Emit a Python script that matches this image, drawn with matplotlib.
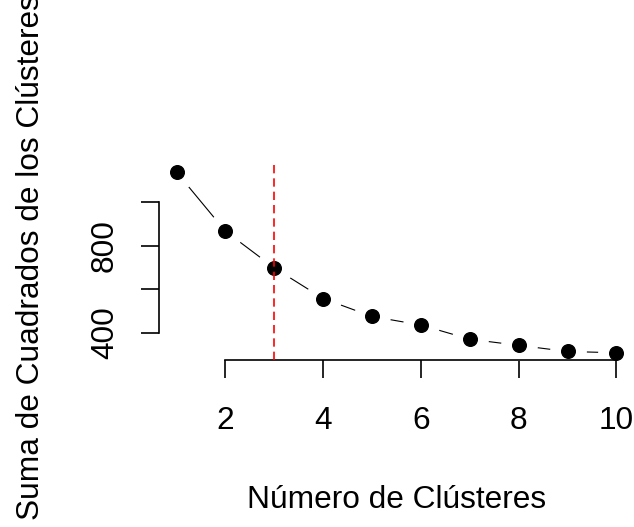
import matplotlib
matplotlib.use("Agg")
import matplotlib.pyplot as plt
import numpy as np

plt.rcParams['font.family'] = ['Liberation Sans', 'DejaVu Sans']

clusters = [1, 2, 3, 4, 5, 6, 7, 8, 9, 10]
wss = [1136, 866, 698, 558, 476, 437, 372, 344, 316, 310]
x_ticks = [2, 4, 6, 8, 10]
y_ticks = [400, 600, 800, 1000]
y_tick_labels = ["400", "", "800", ""]
k_opt = 3

W, H = 634, 527
fig = plt.figure(figsize=(W / 100, H / 100), dpi=100)
ax = fig.add_axes([159 / W, 1 - 360 / H, (634 - 159) / W, (360 - 165) / H])

fs = 22.8

# R-style 4% range extension
xr = max(clusters) - min(clusters)
yr = max(wss) - min(wss)
ax.set_xlim(min(clusters) - 0.04 * xr, max(clusters) + 0.04 * xr)
ax.set_ylim(min(wss) - 0.04 * yr, max(wss) + 0.04 * yr)

# type="b": solid line with gaps around the points
ax.plot(clusters, wss, color='black', lw=0.8, ls='-', zorder=1)
ax.plot(clusters, wss, ls='none', marker='o', ms=26.5, mfc='white', mec='white', mew=0, zorder=2)
ax.plot(clusters, wss, ls='none', marker='o', ms=9.8, mfc='black', mec='black', zorder=6)
ax.axvline(k_opt, color='red', lw=1.2, ls=(0, (5, 3)), zorder=7)

for s in ['top', 'right']:
    ax.spines[s].set_visible(False)
for s in ['left', 'bottom']:
    ax.spines[s].set_zorder(5)
    ax.spines[s].set_linewidth(1.2)
ax.spines['left'].set_bounds(min(y_ticks), max(y_ticks))
ax.spines['bottom'].set_bounds(min(x_ticks), max(x_ticks))

ax.set_xticks(x_ticks)
ax.set_xticklabels([str(v) for v in x_ticks])
ax.set_yticks(y_ticks)
ax.set_yticklabels(y_tick_labels, rotation=90, va='center')
ax.tick_params(axis='both', length=13, width=1.2, labelsize=fs)
ax.tick_params(axis='x', pad=20)
ax.tick_params(axis='y', pad=15)
ax.patch.set_alpha(0)

fig.text(396.5 / W, 1 - 508 / H, "Número de Clústeres", ha='center', va='baseline', fontsize=fs)
fig.text(31 / W, 1 - 520 / H, "Suma de Cuadrados de los Clústeres", ha='center', va='bottom',
         rotation=90, fontsize=fs)

fig.savefig("out.png", dpi=100)
